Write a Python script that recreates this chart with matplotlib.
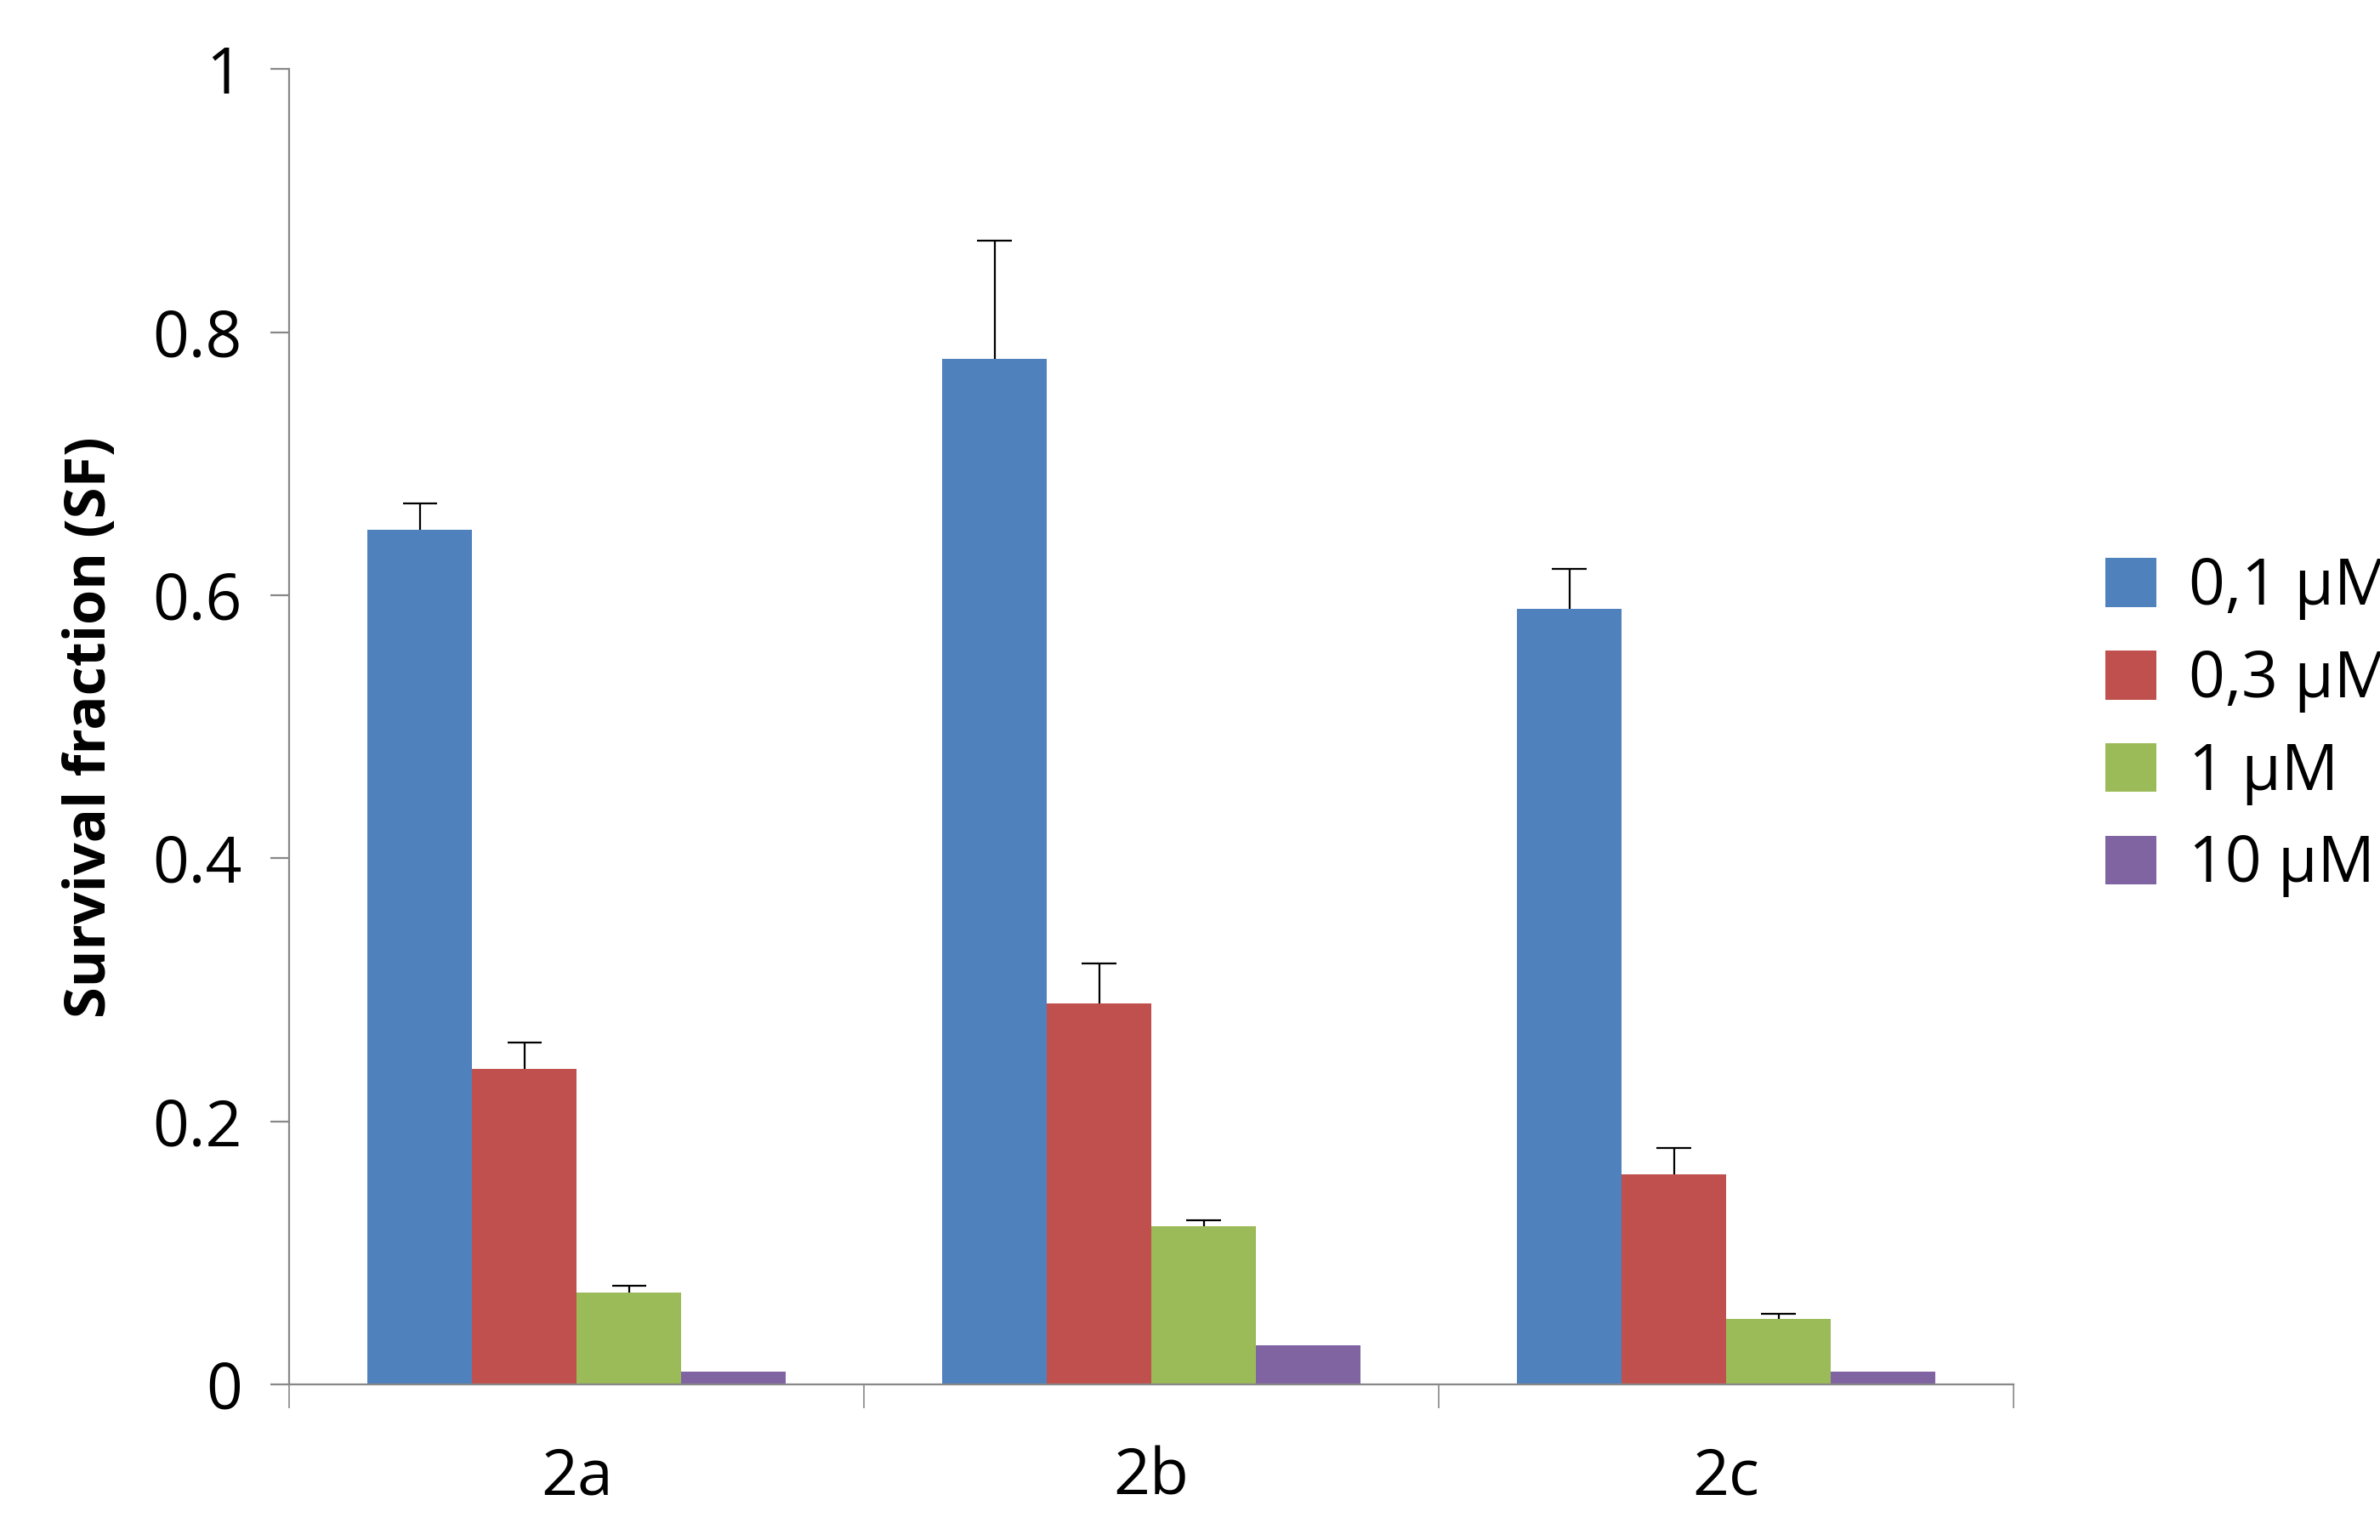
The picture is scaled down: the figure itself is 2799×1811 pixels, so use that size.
import matplotlib
matplotlib.use('Agg')
from matplotlib import pyplot as plt
import numpy as np

groups = ['2a', '2b', '2c']
series = ['0,1 µM', '0,3 µM', '1 µM', '10 µM']
values = [
    [0.65, 0.78, 0.59],
    [0.24, 0.29, 0.16],
    [0.07, 0.12, 0.05],
    [0.01, 0.03, 0.01],
]
errors = [
    [0.02, 0.09, 0.03],
    [0.02, 0.03, 0.02],
    [0.005, 0.005, 0.004],
    [0.0, 0.0, 0.0],
]
colours = ['#4F81BD', '#C0504D', '#9BBB59', '#8064A2']

plt.rcParams['font.family'] = ['Open Sans', 'DejaVu Sans']

fig = plt.figure(figsize=(13.995, 9.055), dpi=200)
ax = fig.add_axes([0.1216, 0.101, 0.7244, 0.854])

x = np.arange(len(groups))
w = 0.182
cap = 0.03
for i in range(len(series)):
    pos = x + (i - 1.5) * w
    ax.bar(pos, values[i], width=w, color=colours[i], label=series[i])
    # one-sided error bars: whisker up from bar top, cap only on top
    for p, v, e in zip(pos, values[i], errors[i]):
        if e > 0:
            ax.vlines(p, v, v + e, color='black', linewidth=0.8)
            ax.hlines(v + e, p - cap, p + cap, color='black', linewidth=0.8)

ax.set_xlim(-0.5, 2.5)
ax.set_ylim(0, 1)
ax.set_yticks([0, 0.2, 0.4, 0.6, 0.8, 1])
ax.set_yticklabels(['0', '0.2', '0.4', '0.6', '0.8', '1'])
ax.set_xticks(x)
ax.set_xticklabels(groups)
ax.set_xticks([-0.5, 0.5, 1.5, 2.5], minor=True)
ax.tick_params(axis='x', which='major', length=0, labelsize=27, pad=26)
ax.tick_params(axis='x', which='minor', length=10, color='#888888')
ax.tick_params(axis='y', length=8, color='#888888', labelsize=27, pad=12)
for s in ['top', 'right']:
    ax.spines[s].set_visible(False)
ax.spines['left'].set_color('#888888')
ax.spines['bottom'].set_color('#888888')
ax.set_ylabel('Survival fraction (SF)', fontsize=24, fontweight='bold', labelpad=14)

ax.legend(loc='center left', bbox_to_anchor=(1.02, 0.5), frameon=False, fontsize=27,
          handlelength=0.8, handleheight=0.8, handletextpad=0.5, labelspacing=0.45)

fig.savefig('out.png')
